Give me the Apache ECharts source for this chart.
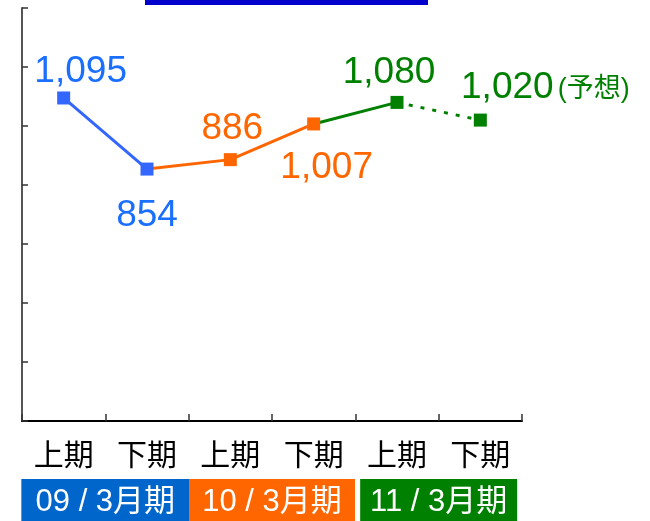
<!DOCTYPE html>
<html>
<head>
<meta charset="utf-8">
<title>売上高推移</title>
<script src="https://cdn.jsdelivr.net/npm/echarts@6/dist/echarts.min.js"></script>
<style>
  html, body { margin: 0; padding: 0; background: #ffffff; }
  #chart { width: 650px; height: 521px; }
</style>
</head>
<body>
<div id="chart"></div>
<script>
// Half-year periods along the x axis
const periods = ['上期', '下期', '上期', '下期', '上期', '下期'];
// Fiscal years, each covering two half-year periods
const fiscalYears = ['09 / 3月期', '10 / 3月期', '11 / 3月期'];
// Values per half-year (last one is a forecast)
const values = [1095, 854, 886, 1007, 1080, 1020];
const forecastNote = '(予想)';

// Y axis scale (no tick labels drawn)
const yMin = 0;
const yMax = 1400;
const yStep = 200;

const BLUE = '#3366ff';
const ORANGE = '#ff6600';
const GREEN = '#008000';
const yearColors = ['#0066cc', '#ff6600', '#008000'];
const pointColors = [BLUE, BLUE, ORANGE, ORANGE, GREEN, GREEN];
const labelColors = ['#1a6fff', '#1a6fff', ORANGE, ORANGE, GREEN, GREEN];

const FONT = '"Liberation Sans", Arial, "Noto Sans CJK JP", sans-serif';

// Keep only the values between indices a and b (inclusive)
function segment(a, b) {
  return values.map((v, i) => (i >= a && i <= b ? v : null));
}

function fmt(v) {
  return v.toLocaleString('en-US');
}

// Label placement around each point: [dx, dy]
const labelOffsets = [[17, -26], [0, 47], [2, -31], [13, 44], [-8, -30], [65, -32]];

const chart = echarts.init(document.getElementById('chart'), null, { renderer: 'canvas' });

const lineSeries = (data, color, dashed) => ({
  type: 'line',
  data: data,
  symbol: 'none',
  silent: true,
  z: 2,
  lineStyle: { color: color, width: 3, type: dashed ? [4, 8] : 'solid', opacity: 1 },
  animation: false
});

const yearBox = (i, width) => ({
  backgroundColor: yearColors[i], color: '#fff', width: width, height: 46, lineHeight: 46,
  align: 'center', fontSize: 31, fontFamily: FONT
});

chart.setOption({
  animation: false,
  graphic: [{
    type: 'rect',
    left: 145, top: 0,
    shape: { width: 283, height: 5 },
    style: { fill: '#0000cc' }
  }],
  grid: { left: 22, right: 128, top: 8, bottom: 100, containLabel: false, outerBoundsMode: 'none' },
  xAxis: [{
    type: 'category',
    data: periods,
    boundaryGap: true,
    position: 'bottom',
    axisLine: { show: true, lineStyle: { color: '#000', width: 2 } },
    axisTick: { show: true, inside: true, length: 7, lineStyle: { color: '#333', width: 1.5 } },
    axisLabel: { color: '#000', fontSize: 30, margin: 21, fontFamily: FONT },
    splitLine: { show: false }
  }, {
    type: 'category',
    data: fiscalYears,
    position: 'bottom',
    axisLine: { show: false },
    axisTick: { show: false },
    splitLine: { show: false },
    axisLabel: {
      margin: 58,
      interval: 0,
      formatter: (v, i) => `{y${i}|${v}}`,
      rich: { y0: yearBox(0, 168), y1: yearBox(1, 166), y2: yearBox(2, 157) }
    }
  }],
  yAxis: {
    type: 'value',
    min: yMin,
    max: yMax,
    interval: yStep,
    axisLine: { show: true, lineStyle: { color: '#555', width: 2 } },
    axisTick: { show: true, inside: true, length: 6, lineStyle: { color: '#333', width: 1.5 } },
    axisLabel: { show: false },
    splitLine: { show: false }
  },
  series: [
    lineSeries(segment(0, 1), BLUE, false),
    lineSeries(segment(1, 3), ORANGE, false),
    lineSeries(segment(3, 4), GREEN, false),
    lineSeries(segment(4, 5), GREEN, true),
    {
      type: 'scatter',
      symbol: 'rect',
      symbolSize: 13,
      z: 3,
      itemStyle: { opacity: 1 },
      emphasis: { disabled: true },
      data: values.map((v, i) => ({
        value: [i, v],
        itemStyle: { color: pointColors[i], opacity: 1 },
        label: {
          show: true,
          position: 'inside',
          offset: labelOffsets[i],
          color: labelColors[i],
          fontSize: 37,
          fontFamily: FONT,
          formatter: i === values.length - 1
            ? `{n|${fmt(v)}}{s|${forecastNote}}`
            : fmt(v),
          rich: {
            n: { fontSize: 37, fontFamily: FONT, color: GREEN },
            s: { fontSize: 27, fontFamily: FONT, color: GREEN, padding: [3, 0, 0, 4] }
          }
        }
      }))
    }
  ]
});
</script>
</body>
</html>
